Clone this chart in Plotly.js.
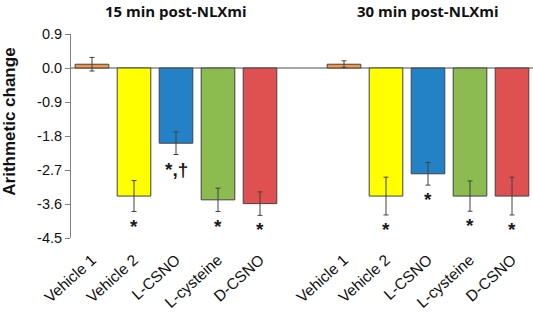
<!DOCTYPE html>
<html>
<head>
<meta charset="utf-8">
<script src="https://cdn.plot.ly/plotly-3.0.1.min.js"></script>
<style>html,body{margin:0;padding:0;background:#fff;}#chart{width:533px;height:313px;}</style>
</head>
<body>
<div id="chart"></div>
<script>
var groupTitles = ["15 min post-NLXmi", "30 min post-NLXmi"];
var treatments = ["Vehicle 1", "Vehicle 2", "L-CSNO", "L-cysteine", "D-CSNO"];
var colors = ["#F79646", "#FFFF00", "#2382C6", "#8CBB50", "#DF5050"];
var values15 = [0.1, -3.39, -1.99, -3.49, -3.59];
var errors15 = [0.18, 0.41, 0.3, 0.31, 0.31];
var marks15 = ["", "*", "*,†", "*", "*"];
var values30 = [0.1, -3.39, -2.8, -3.39, -3.39];
var errors30 = [0.09, 0.5, 0.3, 0.4, 0.5];
var marks30 = ["", "*", "*", "*", "*"];
var yTicks = [0.9, 0.0, -0.9, -1.8, -2.7, -3.6, -4.5];
var yTitle = "Arithmetic change";

var ARIAL = 'Arial, "Liberation Sans", sans-serif';
var groups = [
  {vals: values15, errs: errors15, marks: marks15},
  {vals: values30, errs: errors30, marks: marks30}
];
var stride = treatments.length + 1;
var xs = [], ys = [], es = [], cs = [], tickvals = [], ticktext = [], annotations = [];
groups.forEach(function(g, gi){
  treatments.forEach(function(t, i){
    var x = gi * stride + i;
    xs.push(x); ys.push(g.vals[i]); es.push(g.errs[i]); cs.push(colors[i]);
    tickvals.push(x); ticktext.push(t);
    if (g.marks[i]) {
      annotations.push({
        x: x, y: g.vals[i] - g.errs[i], xref: 'x', yref: 'y',
        text: '<b>' + g.marks[i] + '</b>', showarrow: false, yanchor: 'top', yshift: -2,
        font: {family: ARIAL, size: 19, color: '#1a1a1a'}
      });
    }
  });
  annotations.push({
    x: gi * stride + (treatments.length - 1) / 2, xref: 'x', y: 1, yref: 'paper',
    yanchor: 'middle', yshift: 23, showarrow: false, text: '<b>' + groupTitles[gi] + '</b>',
    font: {family: 'Open Sans, sans-serif', size: 15, color: '#111'}
  });
});
annotations.push({
  x: 0, xref: 'paper', xshift: -61, xanchor: 'center',
  y: 0.57, yref: 'paper', yanchor: 'middle', textangle: -90, showarrow: false,
  text: '<b>' + yTitle + '</b>',
  font: {family: ARIAL, size: 17, color: '#111'}
});

var trace = {
  type: 'bar', x: xs, y: ys, width: 0.8,
  marker: {color: cs, line: {color: '#404040', width: 1}},
  error_y: {type: 'data', array: es, visible: true, color: '#404040', thickness: 1, width: 2.5}
};

var layout = {
  width: 533, height: 313,
  margin: {l: 71, r: 0, t: 34, b: 75},
  paper_bgcolor: '#fff', plot_bgcolor: '#fff',
  showlegend: false,
  bargap: 0,
  xaxis: {
    range: [-0.5, 2 * stride - 1.5], tickmode: 'array', tickvals: tickvals, ticktext: ticktext,
    tickangle: -42, showgrid: false, zeroline: false, showline: false, ticks: '',
    ticklabelstandoff: 9,
    tickfont: {family: ARIAL, size: 15.5, color: '#111'}
  },
  yaxis: {
    range: [-4.5, 0.9], tickmode: 'array', tickvals: yTicks,
    ticktext: yTicks.map(function(v){ return v.toFixed(1); }),
    showgrid: false, zeroline: true, zerolinecolor: '#A6A6A6', zerolinewidth: 2,
    showline: true, linecolor: '#808080', linewidth: 1,
    ticks: 'outside', ticklen: 5, tickcolor: '#808080',
    tickfont: {family: ARIAL, size: 14.5, color: '#111'}
  },
  annotations: annotations
};
Plotly.newPlot('chart', [trace], layout, {displayModeBar: false, staticPlot: true});
</script>
</body>
</html>
